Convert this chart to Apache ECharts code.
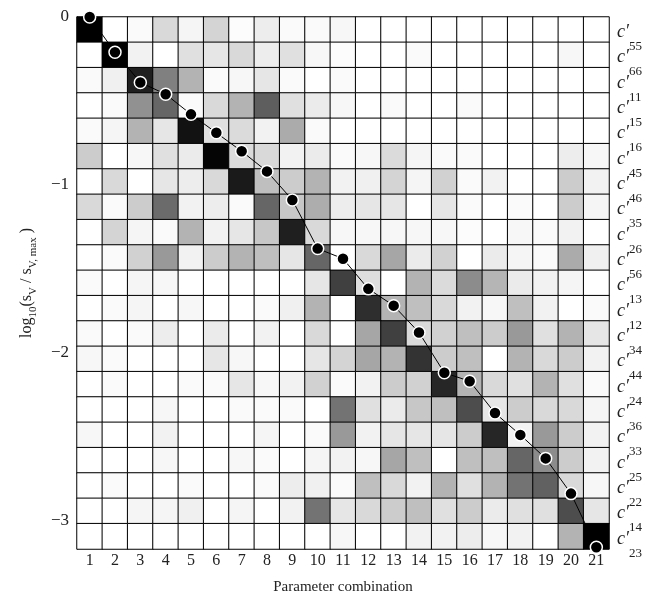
<!DOCTYPE html>
<html>
<head>
<meta charset="utf-8">
<script src="https://cdn.jsdelivr.net/npm/echarts@6/dist/echarts.min.js"></script>
<style>
  html, body { margin: 0; padding: 0; background: #fff; }
  #chart { width: 667px; height: 594px; }
</style>
</head>
<body>
<div id="chart"></div>
<script>
// parameter combinations along the bottom
const combos = ['1','2','3','4','5','6','7','8','9','10','11','12','13','14','15','16','17','18','19','20','21'];
// subscripts of c' on the right side, top to bottom
const rowKeys = ['55','66','11','15','16','45','46','35','26','56','13','12','34','44','24','36','33','25','22','14','23'];
// log10(sV / sV,max) for each combination
const logRatio = [0, -0.21, -0.39, -0.46, -0.58, -0.69, -0.80, -0.92, -1.09, -1.38, -1.44,
                  -1.62, -1.72, -1.88, -2.12, -2.17, -2.36, -2.49, -2.63, -2.84, -3.16];
const yTicks = [0, -1, -2, -3];

// cell darkness (0 = white, 1 = black), one row per c' entry
const shades = [
  [1.00, 0, 0.02, 0.15, 0.04, 0.17, 0.01, 0.07, 0.02, 0.02, 0.03, 0, 0, 0, 0, 0, 0, 0, 0, 0, 0],
  [0, 1.00, 0.05, 0, 0.12, 0.10, 0.15, 0.07, 0.12, 0.03, 0.01, 0, 0, 0.02, 0, 0, 0, 0, 0, 0.03, 0],
  [0.02, 0.06, 0.88, 0.50, 0.30, 0.02, 0.03, 0.10, 0.02, 0, 0.02, 0, 0, 0, 0, 0, 0, 0, 0, 0, 0],
  [0, 0.02, 0.43, 0.60, 0.02, 0.15, 0.30, 0.63, 0.12, 0.08, 0.03, 0, 0.02, 0, 0, 0.02, 0, 0, 0, 0, 0],
  [0.02, 0.04, 0.30, 0.10, 0.93, 0.12, 0.14, 0.05, 0.33, 0.02, 0, 0, 0, 0, 0, 0, 0, 0, 0, 0, 0],
  [0.20, 0, 0.03, 0.12, 0.08, 0.98, 0.14, 0.15, 0.05, 0.08, 0.02, 0.03, 0.14, 0.04, 0.02, 0.02, 0, 0, 0, 0.07, 0.03],
  [0, 0.15, 0, 0.10, 0.07, 0.15, 0.90, 0.25, 0.20, 0.30, 0.05, 0.06, 0.17, 0.04, 0.18, 0.02, 0.05, 0, 0, 0.20, 0.05],
  [0.15, 0.02, 0.20, 0.58, 0.05, 0.07, 0.02, 0.60, 0.22, 0.32, 0.07, 0.10, 0.10, 0, 0.10, 0.02, 0, 0.02, 0, 0.20, 0.04],
  [0, 0.17, 0.04, 0.02, 0.30, 0.05, 0.10, 0.22, 0.88, 0.15, 0.03, 0.03, 0.03, 0.03, 0.03, 0.01, 0, 0.03, 0.02, 0.05, 0],
  [0, 0.02, 0.18, 0.40, 0.05, 0.20, 0.30, 0.25, 0.10, 0.60, 0, 0.15, 0.35, 0.08, 0.18, 0, 0.08, 0.04, 0.02, 0.33, 0.06],
  [0.02, 0, 0.04, 0.03, 0, 0, 0, 0, 0, 0.10, 0.75, 0.13, 0, 0.30, 0.14, 0.45, 0.29, 0.08, 0.05, 0.04, 0],
  [0, 0.02, 0.04, 0, 0.03, 0, 0, 0.02, 0.06, 0.30, 0, 0.82, 0.30, 0.25, 0.15, 0.05, 0.03, 0.25, 0.05, 0, 0.02],
  [0.02, 0, 0.02, 0.07, 0, 0.08, 0, 0.05, 0, 0.15, 0, 0.35, 0.75, 0.15, 0.18, 0.25, 0.20, 0.40, 0.12, 0.30, 0.10],
  [0.03, 0.02, 0, 0, 0, 0.10, 0.03, 0, 0, 0.10, 0.17, 0.35, 0.30, 0.80, 0.20, 0.25, 0, 0.30, 0.15, 0.20, 0.05],
  [0, 0.02, 0, 0, 0.02, 0.02, 0.10, 0.03, 0.05, 0.18, 0.02, 0.05, 0.20, 0.18, 0.85, 0.30, 0.15, 0.12, 0.30, 0.12, 0.02],
  [0, 0, 0, 0.03, 0, 0, 0.02, 0.02, 0.02, 0, 0.55, 0.12, 0.08, 0.22, 0.25, 0.70, 0.10, 0.20, 0.15, 0.15, 0.04],
  [0.03, 0, 0, 0.05, 0, 0, 0, 0.04, 0, 0.02, 0.40, 0.05, 0.10, 0.10, 0.10, 0.20, 0.85, 0.05, 0.40, 0.20, 0.05],
  [0, 0, 0, 0.03, 0, 0, 0.03, 0.02, 0, 0.04, 0.05, 0.03, 0.35, 0.25, 0, 0.25, 0.25, 0.60, 0.45, 0.20, 0.05],
  [0, 0.02, 0, 0, 0.02, 0, 0, 0.02, 0.07, 0.06, 0.02, 0.25, 0.15, 0.05, 0.30, 0.12, 0.30, 0.55, 0.62, 0.15, 0.03],
  [0, 0, 0.04, 0.04, 0.06, 0, 0.04, 0, 0.05, 0.55, 0.10, 0.15, 0.20, 0.25, 0.12, 0.20, 0.08, 0.12, 0.12, 0.70, 0.10],
  [0, 0, 0, 0, 0, 0, 0, 0, 0, 0, 0.03, 0, 0, 0.05, 0.05, 0.07, 0.03, 0.05, 0, 0.30, 1.00]
];

const serif = 'Liberation Serif';
const textColor = '#222';

const chart = echarts.init(document.getElementById('chart'));

let cells = [];
for (let r = 0; r < shades.length; r++) {
  for (let c = 0; c < shades[r].length; c++) {
    cells.push([c, r, shades[r][c]]);
  }
}

const option = {
  backgroundColor: '#fff',
  animation: false,
  grid: { left: 77, top: 17, width: 532, height: 532, outerBoundsMode: 'none', containLabel: false },
  visualMap: {
    show: false,
    seriesIndex: 0,
    min: 0,
    max: 1,
    inRange: { color: ['#ffffff', '#000000'] }
  },
  xAxis: [{
    type: 'category',
    data: combos,
    position: 'bottom',
    axisLine: { show: false },
    axisTick: { show: false },
    splitLine: { show: false },
    axisLabel: { color: textColor, fontFamily: serif, fontSize: 16, margin: 4, interval: 0 },
    name: 'Parameter combination',
    nameLocation: 'middle',
    nameGap: 31,
    nameTextStyle: { color: textColor, fontFamily: serif, fontSize: 15 }
  }],
  yAxis: [{
    // c' labels on the right, one per heatmap row
    type: 'category',
    data: rowKeys,
    inverse: true,
    position: 'right',
    axisLine: { show: false },
    axisTick: { show: false },
    splitLine: { show: false },
    axisLabel: {
      margin: 8,
      interval: 0,
      hideOverlap: false,
      formatter: function (v) { return '{c|c′}{s|' + v + '}'; },
      rich: {
        c: { fontFamily: serif, fontStyle: 'italic', fontSize: 18, color: textColor, padding: [5, 0, 0, 0], verticalAlign: 'middle' },
        s: { fontFamily: serif, fontSize: 13, color: textColor, padding: [34, 0, 0, 0], verticalAlign: 'middle' }
      }
    }
  }, {
    type: 'value',
    position: 'left',
    min: -3.17,
    max: 0,
    axisLine: { show: true, lineStyle: { color: '#000', width: 1 } },
    axisTick: { show: true, inside: true, length: 5, customValues: yTicks, lineStyle: { color: '#000' } },
    splitLine: { show: false },
    axisLabel: {
      customValues: yTicks,
      margin: 8,
      color: textColor,
      fontFamily: serif,
      fontSize: 17,
      formatter: function (v) { return v === 0 ? '0' : '−' + Math.abs(v); }
    },
    name: '{n|log}{sub|10}{n|(}{i|s}{sub|V}{n| / }{i|s}{sub|V, max}{n| )}',
    nameLocation: 'middle',
    nameRotate: 90,
    nameGap: 38,
    nameTextStyle: {
      rich: {
        n: { fontFamily: serif, fontSize: 16, color: textColor, verticalAlign: 'middle' },
        i: { fontFamily: serif, fontSize: 16, color: textColor, verticalAlign: 'middle' },
        sub: { fontFamily: serif, fontSize: 11, color: textColor, padding: [14, 0, 0, 0], verticalAlign: 'middle' }
      }
    }
  }],
  series: [{
    type: 'heatmap',
    xAxisIndex: 0,
    yAxisIndex: 0,
    data: cells,
    itemStyle: { borderColor: '#000', borderWidth: 1 },
    emphasis: { disabled: true }
  }, {
    type: 'line',
    xAxisIndex: 0,
    yAxisIndex: 1,
    data: logRatio,
    z: 5,
    symbol: 'circle',
    symbolSize: 12,
    lineStyle: { color: '#000', width: 1 },
    itemStyle: { color: '#000', borderColor: '#fff', borderWidth: 1.5 }
  }]
};

chart.setOption(option);
</script>
</body>
</html>
